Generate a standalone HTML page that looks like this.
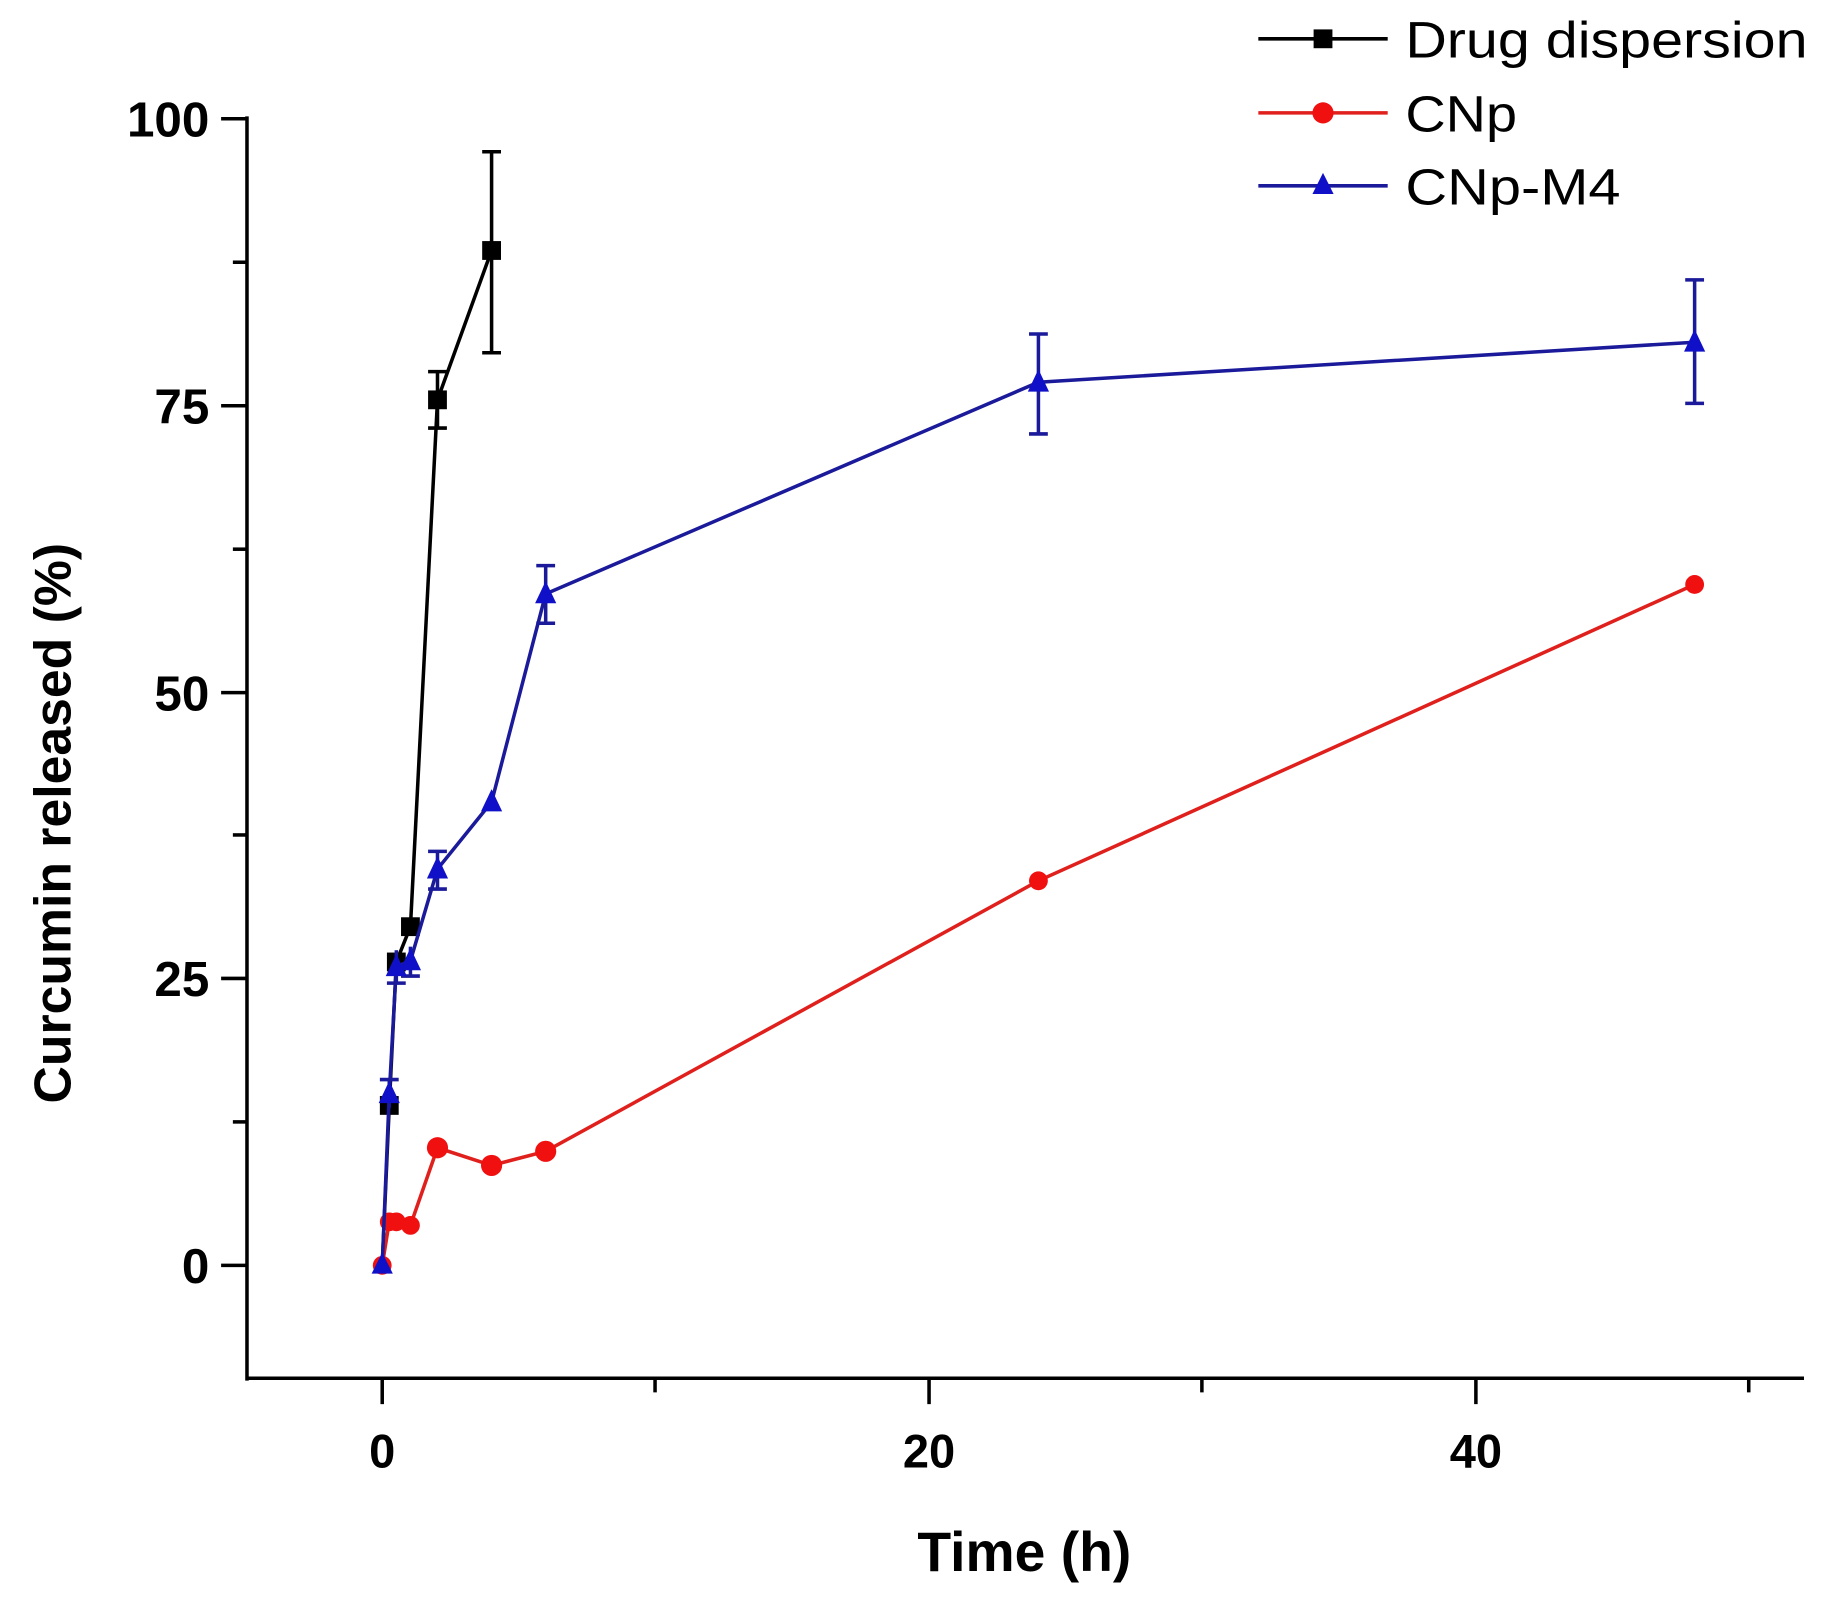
<!DOCTYPE html>
<html><head><style>body{margin:0;background:#fff}svg{display:block}</style></head>
<body>
<svg width="1844" height="1597" viewBox="0 0 1568 1358" xmlns="http://www.w3.org/2000/svg" font-family="Liberation Sans, Arial, sans-serif">
<rect width="1568" height="1358" fill="#fff"/>
<g stroke="#000" stroke-width="3" fill="none">
<line x1="210" y1="99" x2="210" y2="1174"/>
<line x1="209" y1="1172" x2="1534" y2="1172"/>
<line x1="188" y1="101" x2="210" y2="101"/>
<line x1="188" y1="345" x2="210" y2="345"/>
<line x1="188" y1="589" x2="210" y2="589"/>
<line x1="188" y1="832" x2="210" y2="832"/>
<line x1="188" y1="1076" x2="210" y2="1076"/>
<line x1="198" y1="223" x2="210" y2="223"/>
<line x1="198" y1="467" x2="210" y2="467"/>
<line x1="198" y1="710" x2="210" y2="710"/>
<line x1="198" y1="954" x2="210" y2="954"/>
<line x1="325" y1="1172" x2="325" y2="1194"/>
<line x1="790" y1="1172" x2="790" y2="1194"/>
<line x1="1255" y1="1172" x2="1255" y2="1194"/>
<line x1="557" y1="1172" x2="557" y2="1184"/>
<line x1="1022" y1="1172" x2="1022" y2="1184"/>
<line x1="1487" y1="1172" x2="1487" y2="1184"/>
</g>
<g font-weight="bold" font-size="42" text-anchor="end" fill="#000">
<text x="178" y="116">100</text>
<text x="178" y="360">75</text>
<text x="178" y="604">50</text>
<text x="178" y="847">25</text>
<text x="178" y="1091">0</text>
</g>
<g font-weight="bold" font-size="40" text-anchor="middle" fill="#000">
<text x="325" y="1248">0</text>
<text x="790" y="1248">20</text>
<text x="1255" y="1248">40</text>
<text x="871" y="1336" font-size="47">Time (h)</text>
<text transform="translate(60,700) rotate(-90)" font-size="44">Curcumin released (%)</text>
</g>
<g stroke="#000" stroke-width="3" fill="none">
<polyline points="325,1076 331,940 337,818 349,788 372,340 418,213"/>
<line x1="372" y1="316" x2="372" y2="364"/><line x1="364" y1="316" x2="380" y2="316"/><line x1="364" y1="364" x2="380" y2="364"/>
<line x1="418" y1="129" x2="418" y2="300"/><line x1="410" y1="129" x2="426" y2="129"/><line x1="410" y1="300" x2="426" y2="300"/>
</g>
<g fill="#000">
<rect x="323" y="932" width="16" height="16"/><rect x="329" y="810" width="16" height="16"/><rect x="341" y="780" width="16" height="16"/><rect x="364" y="332" width="16" height="16"/><rect x="410" y="205" width="16" height="16"/>
</g>
<g stroke="#e0201c" stroke-width="3" fill="none">
<polyline points="325,1076 331,1039 337,1039 349,1042 372,976 418,991 464,979 883,749 1441,497"/>
</g>
<g fill="#f01010">
<circle cx="325" cy="1076" r="8"/><circle cx="331" cy="1039" r="8"/><circle cx="337" cy="1039" r="8"/><circle cx="349" cy="1042" r="8"/><circle cx="372" cy="976" r="9"/><circle cx="418" cy="991" r="9"/><circle cx="464" cy="979" r="9"/><circle cx="883" cy="749" r="8"/><circle cx="1441" cy="497" r="8"/>
</g>
<g stroke="#1a1a9a" stroke-width="3" fill="none">
<polyline points="325,1076 331,930 337,822 349,817 372,739 418,682 464,505 883,325 1441,291"/>
<line x1="331" y1="918" x2="331" y2="942"/><line x1="323" y1="918" x2="339" y2="918"/>
<line x1="337" y1="808" x2="337" y2="836"/><line x1="329" y1="836" x2="345" y2="836"/>
<line x1="349" y1="805" x2="349" y2="830"/><line x1="341" y1="830" x2="357" y2="830"/>
<line x1="372" y1="724" x2="372" y2="756"/><line x1="364" y1="724" x2="380" y2="724"/><line x1="364" y1="756" x2="380" y2="756"/>
<line x1="464" y1="481" x2="464" y2="530"/><line x1="456" y1="481" x2="472" y2="481"/><line x1="456" y1="530" x2="472" y2="530"/>
<line x1="883" y1="284" x2="883" y2="369"/><line x1="875" y1="284" x2="891" y2="284"/><line x1="875" y1="369" x2="891" y2="369"/>
<line x1="1441" y1="238" x2="1441" y2="343"/><line x1="1433" y1="238" x2="1449" y2="238"/><line x1="1433" y1="343" x2="1449" y2="343"/>
</g>
<g fill="#1010c8">
<polygon points="325,1065 316,1083 334,1083"/><polygon points="331,919 322,938 340,938"/><polygon points="337,811 328,830 346,830"/><polygon points="349,806 340,825 358,825"/><polygon points="372,728 363,747 381,747"/><polygon points="418,671 409,690 427,690"/><polygon points="464,494 455,513 473,513"/><polygon points="883,314 874,333 892,333"/><polygon points="1441,280 1432,299 1450,299"/>
</g>
<g stroke-width="3">
<line x1="1070" y1="33" x2="1180" y2="33" stroke="#000"/>
<line x1="1070" y1="96" x2="1180" y2="96" stroke="#e0201c"/>
<line x1="1070" y1="158" x2="1180" y2="158" stroke="#1a1a9a"/>
</g>
<rect x="1117" y="25" width="16" height="16" fill="#000"/>
<circle cx="1125" cy="96" r="9" fill="#f01010"/>
<polygon points="1125,147 1116,165 1134,165" fill="#1010c8"/>
<g font-size="43" fill="#000">
<text x="1195" y="49" textLength="342" lengthAdjust="spacingAndGlyphs">Drug dispersion</text>
<text x="1195" y="112" textLength="95" lengthAdjust="spacingAndGlyphs">CNp</text>
<text x="1195" y="174" textLength="183" lengthAdjust="spacingAndGlyphs">CNp-M4</text>
</g>
</svg>
</body></html>
